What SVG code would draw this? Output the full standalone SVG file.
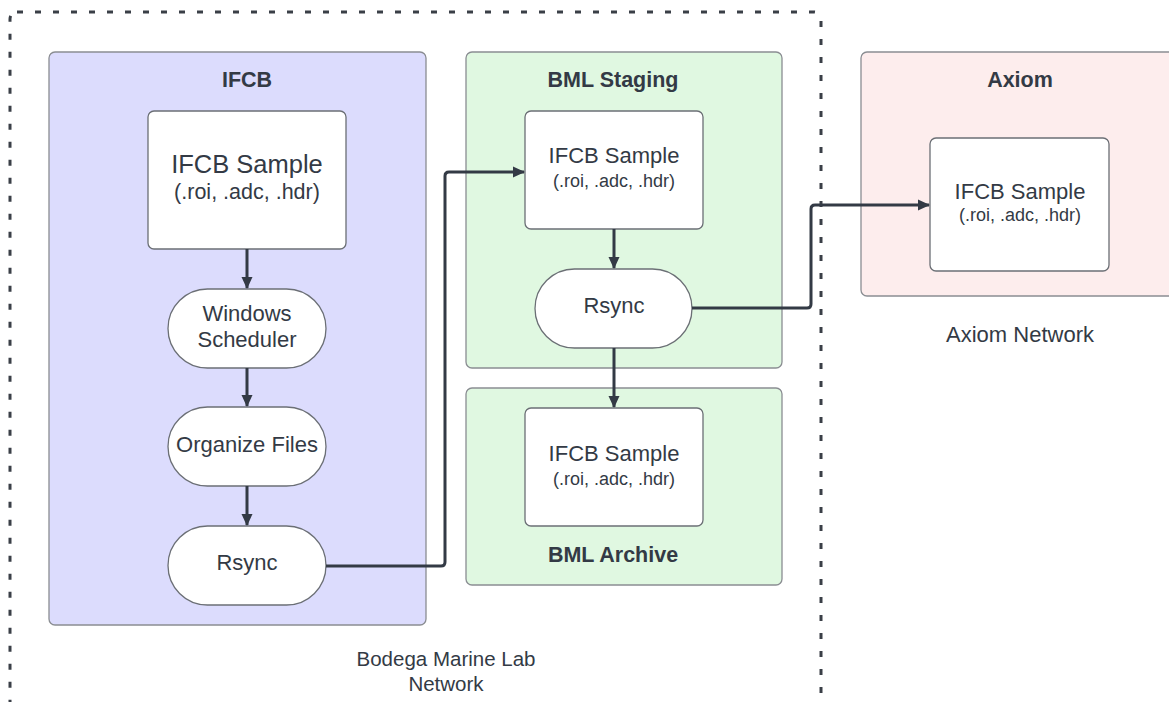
<svg xmlns="http://www.w3.org/2000/svg" width="1169" height="702" viewBox="0 0 1169 702">
<defs>
<style>
.t{font-family:"Liberation Sans",Arial,sans-serif;fill:#333a45;text-anchor:middle}
.b{font-weight:bold;font-size:21.5px}
.l{font-size:22px}
.m{font-size:22px}
.s{font-size:18px}
.box{fill:#ffffff;stroke:#6b6f75;stroke-width:1.3}
.cont{stroke:#8a8d92;stroke-width:1.3}
.conn{fill:none;stroke:#333a45;stroke-width:3;stroke-linejoin:round}
</style>
<marker id="ah" viewBox="0 0 12 12" refX="11" refY="6" markerWidth="12" markerHeight="12" markerUnits="userSpaceOnUse" orient="auto">
<path d="M0,0.5 L12,6 L0,11.5 Z" fill="#333a45"/>
</marker>
</defs>
<rect width="1169" height="702" fill="#ffffff"/>
<g id="bml-network">
<rect x="10" y="12" width="811" height="696" rx="7" fill="none" stroke="#3a3f47" stroke-width="3" stroke-dasharray="6 12"/>
<text class="t" x="446" y="666" font-size="20.5">Bodega Marine Lab</text>
<text class="t" x="446" y="691" font-size="20.5">Network</text>
</g>
<g id="ifcb">
<rect class="cont" x="49" y="52" width="377" height="573" rx="6" fill="#dcdcfd"/>
<text class="t b" x="247" y="87">IFCB</text>
</g>
<g id="bml-staging">
<rect class="cont" x="466" y="52" width="316" height="316" rx="6" fill="#e0f8e1"/>
<text class="t b" x="613" y="87">BML Staging</text>
</g>
<g id="bml-archive">
<rect class="cont" x="466" y="388" width="316" height="197" rx="6" fill="#e0f8e1"/>
<text class="t b" x="613" y="562">BML Archive</text>
</g>
<g id="axiom">
<rect class="cont" x="861" y="52" width="320" height="244" rx="6" fill="#fdeded"/>
<text class="t b" x="1020" y="87">Axiom</text>
<text class="t l" x="1020" y="342">Axiom Network</text>
</g>
<g id="ifcb-sample">
<rect class="box" x="148" y="111" width="198" height="138" rx="6"/>
<text class="t" x="247" y="173" font-size="25.5">IFCB Sample</text>
<text class="t" x="247" y="199" font-size="21.5">(.roi, .adc, .hdr)</text>
</g>
<g id="windows-scheduler">
<rect class="box" x="168" y="289" width="158" height="79" rx="39.5"/>
<text class="t l" x="247" y="321">Windows</text>
<text class="t l" x="247" y="347">Scheduler</text>
</g>
<g id="organize-files">
<rect class="box" x="168" y="407" width="158" height="79" rx="39.5"/>
<text class="t l" x="247" y="452">Organize Files</text>
</g>
<g id="ifcb-rsync">
<rect class="box" x="168" y="526" width="158" height="79" rx="39.5"/>
<text class="t l" x="247" y="570">Rsync</text>
</g>
<g id="staging-sample">
<rect class="box" x="525" y="111" width="178" height="118" rx="6"/>
<text class="t m" x="614" y="163">IFCB Sample</text>
<text class="t s" x="614" y="187">(.roi, .adc, .hdr)</text>
</g>
<g id="staging-rsync">
<rect class="box" x="535" y="269" width="157" height="79" rx="39.5"/>
<text class="t l" x="614" y="313">Rsync</text>
</g>
<g id="archive-sample">
<rect class="box" x="525" y="408" width="178" height="118" rx="6"/>
<text class="t m" x="614" y="461">IFCB Sample</text>
<text class="t s" x="614" y="485">(.roi, .adc, .hdr)</text>
</g>
<g id="axiom-sample">
<rect class="box" x="930" y="138" width="179" height="133" rx="6"/>
<text class="t m" x="1020" y="199">IFCB Sample</text>
<text class="t s" x="1020" y="221">(.roi, .adc, .hdr)</text>
</g>
<g id="connectors">
<path class="conn" d="M247,249 L247,288" marker-end="url(#ah)"/>
<path class="conn" d="M247,368 L247,406" marker-end="url(#ah)"/>
<path class="conn" d="M247,486 L247,525" marker-end="url(#ah)"/>
<path class="conn" d="M326,566 L441,566 Q445,566 445,562 L445,176 Q445,172 449,172 L524,172" marker-end="url(#ah)"/>
<path class="conn" d="M614,229 L614,268" marker-end="url(#ah)"/>
<path class="conn" d="M614,348 L614,407" marker-end="url(#ah)"/>
<path class="conn" d="M692,308 L807,308 Q811,308 811,304 L811,209 Q811,205 815,205 L929,205" marker-end="url(#ah)"/>
</g>
</svg>
